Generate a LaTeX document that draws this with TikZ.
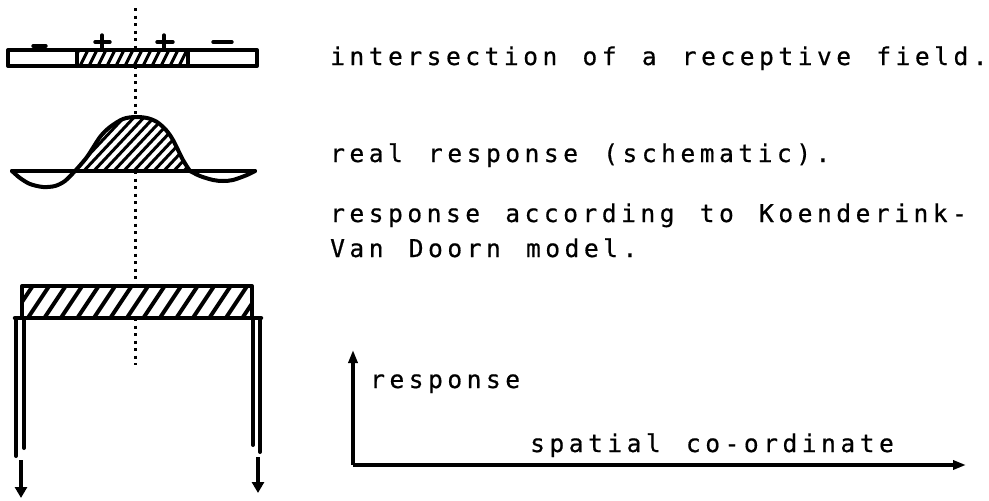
\documentclass[tikz,border=0pt]{standalone}
\usepackage{fontspec}
\newfontfamily\plotfont{DejaVu Sans Mono}[LetterSpace=18.6,WordSpace={1.308,0,0},FakeBold=0.6]
\usetikzlibrary{arrows.meta}
\begin{document}
\begin{tikzpicture}[x=1pt,y=-1pt,line join=round,
  outline/.style={line width=4pt,line cap=round},
  hatchline/.style={line width=3pt},
  thickhatch/.style={line width=4pt},
  signline/.style={line width=3.4pt,line cap=round},
  dotline/.style={line width=3pt,line cap=butt,dash pattern=on 3pt off 4.5pt},
  txt/.style={font=\plotfont\fontsize{24.5}{35}\selectfont,anchor=base west,inner sep=0pt,align=left},
  legarrow/.style={line width=4pt,-{Triangle[length=11pt,width=12pt]}},
  axis/.style={line width=3.4pt,-{Triangle[length=13pt,width=9pt]}}]
\useasboundingbox (0,0) rectangle (989,501);

% dotted symmetry axis
\coordinate (d0) at (135,8);
\coordinate (d1) at (135,50);
\coordinate (d2) at (135,66);
\coordinate (d3) at (135,117);
\coordinate (d4) at (135,171);
\coordinate (d5) at (135,286);
\coordinate (d6) at (135,318);
\coordinate (d7) at (135,365);
\draw[dotline] (d0) -- (d1);
\draw[dotline] (d2) -- (d3);
\draw[dotline] (d4) -- (d5);
\draw[dotline] (d6) -- (d7);

% receptive field bar
\begin{scope}
  \clip (77,50) rectangle (188,66);
  \foreach \x in {60,69,...,200} \draw[hatchline] (\x,70) -- ++(12,-24);
\end{scope}
\draw[outline] (8,50) rectangle (257,66);
\draw[outline] (77,50) -- (77,66);
\draw[outline] (188,50) -- (188,66);
% signs
\draw[signline] (33,46) -- (46,46);
\draw[signline] (95,42) -- (110,42);
\draw[signline] (102,35) -- (102,48);
\draw[signline] (157,42) -- (173,42);
\draw[signline] (164,35) -- (164,48);
\draw[signline] (213,42) -- (232,42);

% real response
\begin{scope}
  \clip plot[smooth] coordinates {(75,171) (87,157) (100,137) (110,127) (123,119) (135,117) (147,118) (157,122) (166,130) (173,140) (183,160) (190,171)} -- cycle;
  \foreach \x in {10,20,...,200} \draw[hatchline] (\x,175) -- ++(60,-64);
\end{scope}
\draw[outline] (12,171) -- (255,171);
\draw[outline] plot[smooth] coordinates {(75,171) (87,157) (100,137) (110,127) (123,119) (135,117) (147,118) (157,122) (166,130) (173,140) (183,160) (190,171)};
\draw[outline] plot[smooth] coordinates {(12,171) (20,178) (30,184) (43,187) (55,186) (65,181) (75,171)};
\draw[outline] plot[smooth] coordinates {(190,171) (200,176) (213,180) (223,181) (233,180) (247,175) (255,171)};

% Koenderink-Van Doorn response
\begin{scope}
  \clip (22,286) rectangle (252,318);
  \foreach \x in {10,26.5,...,270} \draw[thickhatch] (\x,320) -- ++(24,-36);
\end{scope}
\draw[outline] (22,286) rectangle (252,318);
\draw[line width=4.5pt,line cap=round] (15,318) -- (261,318);
\draw[outline] (16,318) -- (16,456);
\draw[outline] (24,318) -- (24,448);
\draw[outline] (253,318) -- (253,445);
\draw[outline] (260,318) -- (260,452);
\coordinate (la0) at (21,460);
\coordinate (la1) at (21,498);
\coordinate (ra0) at (258,457);
\coordinate (ra1) at (258,493);
\draw[legarrow] (la0) -- (la1);
\draw[legarrow] (ra0) -- (ra1);

% axes
\coordinate (O) at (353,465);
\coordinate (ytip) at (353,350);
\coordinate (xtip) at (966,465);
\draw[axis] (O) -- (ytip);
\draw[axis] (O) -- (xtip);

% texts
\node[txt] (t1) at (330,65) {intersection of a receptive field.};
\node[txt] (t2) at (330,162) {real response (schematic).};
\node[txt] (t3) at (330,257) {response according to Koenderink-\\Van Doorn model.};
\node[txt] (t4) at (370,388) {response};
\node[txt] (t5) at (530,452) {spatial co-ordinate};
\end{tikzpicture}
\end{document}
